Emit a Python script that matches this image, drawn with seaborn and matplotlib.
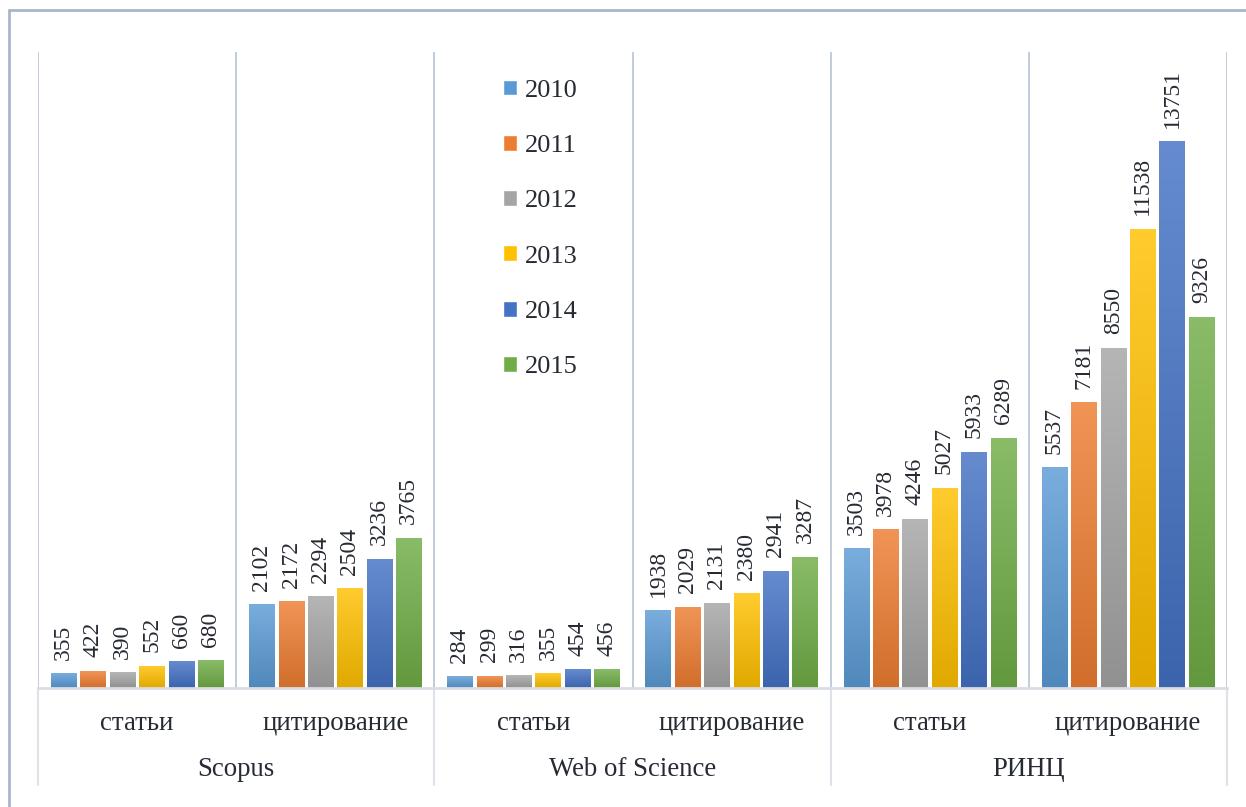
import pandas as pd
import numpy as np
import matplotlib.pyplot as plt
import matplotlib.colors as mcolors
from matplotlib.lines import Line2D
import seaborn as sns

bases = ["Scopus", "Web of Science", "РИНЦ"]
kinds = ["статьи", "цитирование"]
years = ["2010", "2011", "2012", "2013", "2014", "2015"]

scopus_articles = [355, 422, 390, 552, 660, 680]
scopus_cites = [2102, 2172, 2294, 2504, 3236, 3765]
wos_articles = [284, 299, 316, 355, 454, 456]
wos_cites = [1938, 2029, 2131, 2380, 2941, 3287]
rinc_articles = [3503, 3978, 4246, 5027, 5933, 6289]
rinc_cites = [5537, 7181, 8550, 11538, 13751, 9326]

colors = ["#5b9bd5", "#ed7d31", "#a5a5a5", "#ffc000", "#4472c4", "#70ad47"]

series = [scopus_articles, scopus_cites, wos_articles, wos_cites, rinc_articles, rinc_cites]
groups = [f"{b}|{k}" for b in bases for k in kinds]
rows = []
for g, vals in zip(groups, series):
    for y, v in zip(years, vals):
        rows.append({"group": g, "year": y, "value": v})
df = pd.DataFrame(rows)

sns.set_style("white")
plt.rcParams["font.family"] = ["Liberation Serif", "DejaVu Serif"]
txt_color = "#262a33"

fig = plt.figure(figsize=(12.46, 8.07), dpi=100)
ax = fig.add_axes([38 / 1246, 1 - 688 / 807, (1227 - 38) / 1246, (688 - 52) / 807])

sns.barplot(data=df, x="group", y="value", hue="year", order=groups,
            hue_order=years, palette=colors, saturation=1, width=0.89,
            gap=0.14, ax=ax)

# excel-like vertical gradient on each bar
for cont, c in zip(ax.containers, colors):
    rgb = np.array(mcolors.to_rgb(c))
    top = rgb + (1 - rgb) * 0.18
    bot = rgb * 0.88
    grad = np.linspace(0, 1, 64)[:, None, None]
    img = top * (1 - grad) + bot * grad
    for p in cont.patches:
        x0, w, h = p.get_x(), p.get_width(), p.get_height()
        ax.imshow(img, extent=(x0, x0 + w, 0, h), aspect="auto", zorder=2,
                  interpolation="bilinear")
        p.set_visible(False)
    ax.bar_label(cont, rotation=90, padding=10, fontsize=17, color=txt_color)
ax.set_xlim(-0.5, len(groups) - 0.5)
ax.set_ylim(0, 16000)

ax.set_xticks([])
ax.set_yticks([])
ax.set_xlabel("")
ax.set_ylabel("")
for s in ["top", "right", "left"]:
    ax.spines[s].set_visible(False)
ax.spines["bottom"].set_color("#d9dde3")
ax.spines["bottom"].set_linewidth(2)

# separators
for i in range(len(groups) + 1):
    ax.axvline(i - 0.5, color="#b7c2d4", lw=1.2, zorder=1)
tr = ax.get_xaxis_transform()
for i in range(0, len(groups) + 1, 2):
    ax.plot([i - 0.5, i - 0.5], [0, -97 / 636], transform=tr, color="#dde1e8",
            lw=1.5, clip_on=False)

# category labels
for i, g in enumerate(groups):
    ax.text(i, -36 / 636, g.split("|")[1], transform=tr, ha="center",
            va="center", fontsize=19.3, color=txt_color)
for j, b in enumerate(bases):
    ax.text(2 * j + 0.5, -82 / 636, b, transform=tr, ha="center",
            va="center", fontsize=19.3, color=txt_color)

leg = ax.legend(loc="upper left", bbox_to_anchor=(0.371, 0.994), frameon=False,
                fontsize=19, handlelength=0.55, handleheight=0.55,
                handletextpad=0.3, labelspacing=1.25)
for t in leg.get_texts():
    t.set_color(txt_color)

# outer frame
fig.add_artist(Line2D([9 / 1246, 9 / 1246], [0, 1 - 10 / 807], color="#a9b5ca", lw=2))
fig.add_artist(Line2D([9 / 1246, 1], [1 - 10 / 807, 1 - 10 / 807], color="#a9b5ca", lw=2))

fig.savefig("out.png", dpi=100, facecolor="white")
